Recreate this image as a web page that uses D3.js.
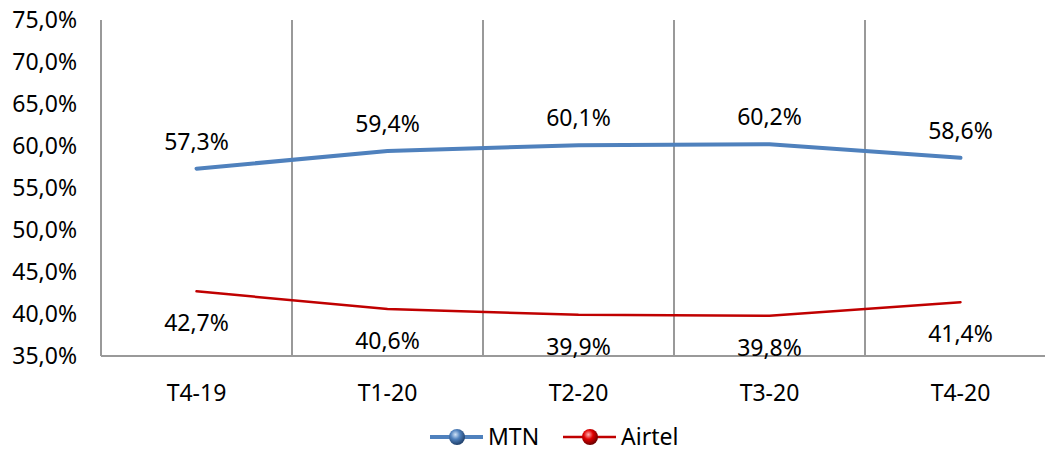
<!DOCTYPE html>
<html>
<head>
<meta charset="utf-8">
<script src="https://cdn.jsdelivr.net/npm/d3@7"></script>
<style>
  body { margin: 0; background: #fff; }
  text { font-family: "Noto Sans", "Open Sans", sans-serif; fill: #000; font-size: 23px; }
</style>
</head>
<body>
<svg id="chart" width="1045" height="451"></svg>
<script>
var categories = ["T4-19", "T1-20", "T2-20", "T3-20", "T4-20"];
var mtnValues = [57.3, 59.4, 60.1, 60.2, 58.6];
var airtelValues = [42.7, 40.6, 39.9, 39.8, 41.4];
var yTicks = [35, 40, 45, 50, 55, 60, 65, 70, 75];

var svg = d3.select("#chart");

var plotLeft = 101, plotRight = 1056, plotTop = 20, plotBottom = 356;

var x = d3.scaleBand().domain(categories).range([plotLeft, plotRight]);
var y = d3.scaleLinear().domain([35, 75]).range([plotBottom, plotTop]);

function fmt(v) { return v.toFixed(1).replace(".", ",") + "%"; }

// radial gradients for the glossy legend markers
var defs = svg.append("defs");
function ball(id, light, mid, dark) {
  var g = defs.append("radialGradient").attr("id", id)
      .attr("cx", "40%").attr("cy", "35%").attr("r", "65%");
  g.append("stop").attr("offset", "0%").attr("stop-color", light);
  g.append("stop").attr("offset", "45%").attr("stop-color", mid);
  g.append("stop").attr("offset", "100%").attr("stop-color", dark);
}
ball("gMtn", "#cfe2f7", "#4f81bd", "#1f3f6a");
ball("gAirtel", "#ffb0b0", "#e00000", "#6a0000");

// vertical separators between categories
var bounds = categories.map(function (c) { return x(c); });
svg.append("g").selectAll("line").data(bounds).enter().append("line")
    .attr("x1", function (d) { return d; })
    .attr("x2", function (d) { return d; })
    .attr("y1", plotTop).attr("y2", plotBottom)
    .attr("stroke", "#999").attr("stroke-width", 2);

// bottom axis line
svg.append("line")
    .attr("x1", plotLeft).attr("x2", plotRight)
    .attr("y1", plotBottom).attr("y2", plotBottom)
    .attr("stroke", "#999").attr("stroke-width", 2);

// y tick labels
svg.append("g").selectAll("text").data(yTicks).enter().append("text")
    .attr("x", 77)
    .attr("y", function (d) { return y(d); })
    .attr("dy", "0.35em")
    .attr("text-anchor", "end")
    .text(function (d) { return fmt(d); });

// x category labels
svg.append("g").selectAll("text").data(categories).enter().append("text")
    .attr("x", function (d) { return x(d) + x.bandwidth() / 2; })
    .attr("y", 393)
    .attr("dy", "0.35em")
    .attr("text-anchor", "middle")
    .text(function (d) { return d; });

var cx = function (d, i) { return x(categories[i]) + x.bandwidth() / 2; };
var line = d3.line().x(cx).y(function (d) { return y(d); });

svg.append("path").datum(mtnValues)
    .attr("d", line).attr("fill", "none")
    .attr("stroke", "#4f81bd").attr("stroke-width", 4)
    .attr("stroke-linecap", "round");

svg.append("path").datum(airtelValues)
    .attr("d", line).attr("fill", "none")
    .attr("stroke", "#c00000").attr("stroke-width", 2.5)
    .attr("stroke-linecap", "round");

// data labels
svg.append("g").selectAll("text").data(mtnValues).enter().append("text")
    .attr("x", cx)
    .attr("y", function (d) { return y(d) - 27; })
    .attr("dy", "0.35em")
    .attr("text-anchor", "middle")
    .text(fmt);

svg.append("g").selectAll("text").data(airtelValues).enter().append("text")
    .attr("x", cx)
    .attr("y", function (d) { return y(d) + 32; })
    .attr("dy", "0.35em")
    .attr("text-anchor", "middle")
    .text(fmt);

// legend
var legend = [
  { name: "MTN", color: "#4f81bd", width: 4, grad: "gMtn", x: 430 },
  { name: "Airtel", color: "#c00000", width: 2.5, grad: "gAirtel", x: 563 }
];
var lg = svg.append("g").selectAll("g").data(legend).enter().append("g")
    .attr("transform", function (d) { return "translate(" + d.x + ",437)"; });
lg.append("line").attr("x1", 0).attr("x2", 53).attr("y1", 0).attr("y2", 0)
    .attr("stroke", function (d) { return d.color; })
    .attr("stroke-width", function (d) { return d.width; });
lg.append("circle").attr("cx", 27).attr("cy", 0).attr("r", 8)
    .attr("fill", function (d) { return "url(#" + d.grad + ")"; });
lg.append("text").attr("x", 58).attr("y", 0).attr("dy", "0.35em")
    .text(function (d) { return d.name; });
</script>
</body>
</html>
